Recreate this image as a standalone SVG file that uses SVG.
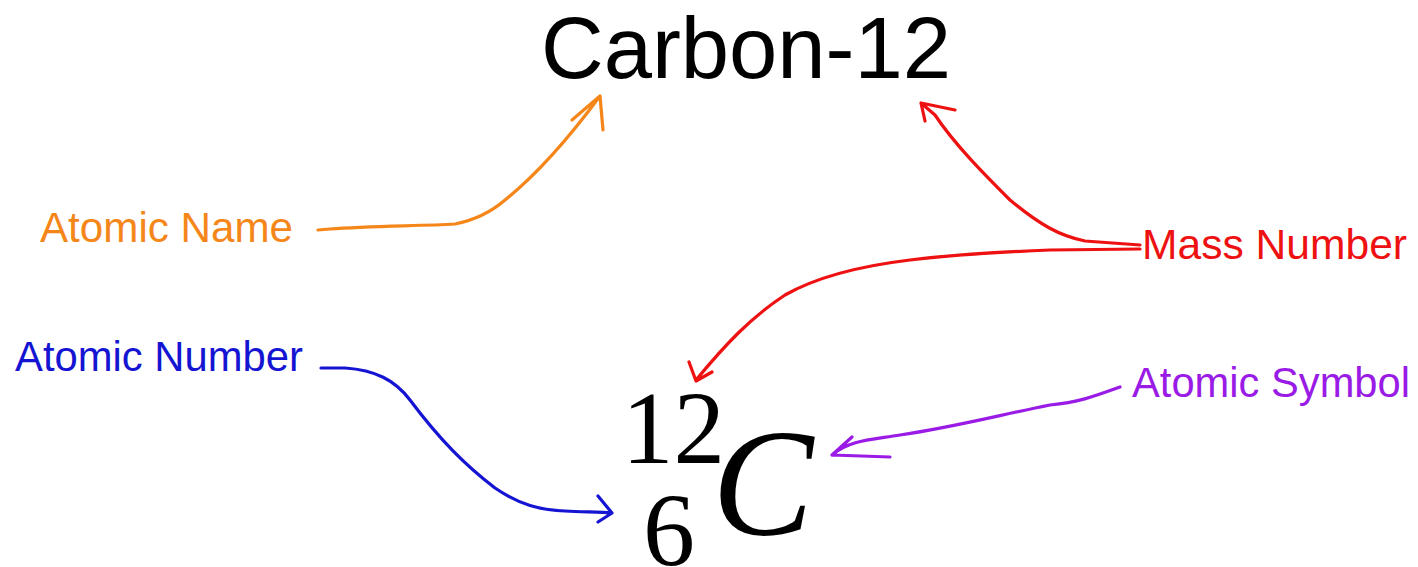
<svg xmlns="http://www.w3.org/2000/svg" width="1418" height="567" viewBox="0 0 1418 567">
<style>
.lbl{font-family:"Liberation Sans",Arial,sans-serif;font-size:42px}
.ink{fill:none;stroke-width:3.2;stroke-linecap:round;stroke-linejoin:round}
.serif{font-family:"Liberation Serif","Times New Roman",serif;fill:#000}
</style>
<rect width="1418" height="567" fill="#fff"/>
<g id="carbon-12"><text x="541" y="78" font-family="Liberation Sans, Arial, sans-serif" font-size="88" fill="#000" textLength="410" lengthAdjust="spacingAndGlyphs">Carbon-12</text></g>
<g id="atomic-name"><text class="lbl" x="40" y="242" fill="#F5871A" textLength="253" lengthAdjust="spacingAndGlyphs">Atomic Name</text></g>
<g id="atomic-number"><text class="lbl" x="15" y="371" fill="#1414D2" textLength="288" lengthAdjust="spacingAndGlyphs">Atomic Number</text></g>
<g id="mass-number"><text class="lbl" x="1142" y="259" fill="#EE1111" textLength="265" lengthAdjust="spacingAndGlyphs">Mass Number</text></g>
<g id="atomic-symbol"><text class="lbl" x="1132" y="397" fill="#9A1BE6" textLength="278" lengthAdjust="spacingAndGlyphs">Atomic Symbol</text></g>
<g id="isotope">
<text class="serif" x="622" y="463" font-size="103">12</text>
<text class="serif" x="643" y="565" font-size="104">6</text>
<text class="serif" x="712" y="535" font-size="152" font-style="italic">C</text>
</g>
<g id="connectors">
<path class="ink" stroke="#F5871A" d="M318,230 L330,229 C370,226 420,226 455,224 C475,220 490,213 505,200 C530,180 560,150 600,96 M572,120 L600,96 L603,130"/>
<path class="ink" stroke="#EE1111" d="M1140,245 L1085,241 C1060,236 1040,225 1010,200 C985,175 955,145 935,115 L921,103 M955,110 L921,103 L925,121"/>
<path class="ink" stroke="#EE1111" d="M1140,249 L1050,250 C1000,252 950,255 910,260 C860,266 815,278 785,295 C750,318 725,345 696,380 M689,362 L696,381 L712,372"/>
<path class="ink" stroke="#1414D2" d="M321,368 L345,368 C375,370 395,380 410,400 C440,440 465,465 495,488 C520,505 540,510 565,511 C585,512 600,512 612,513 M598,496 L612,513 L598,522"/>
<path class="ink" stroke="#9A1BE6" d="M1120,387 C1095,396 1080,402 1050,405 C1000,415 950,428 900,435 C870,440 850,440 832,455 L890,457 M832,455 L852,437"/>
</g>
</svg>
